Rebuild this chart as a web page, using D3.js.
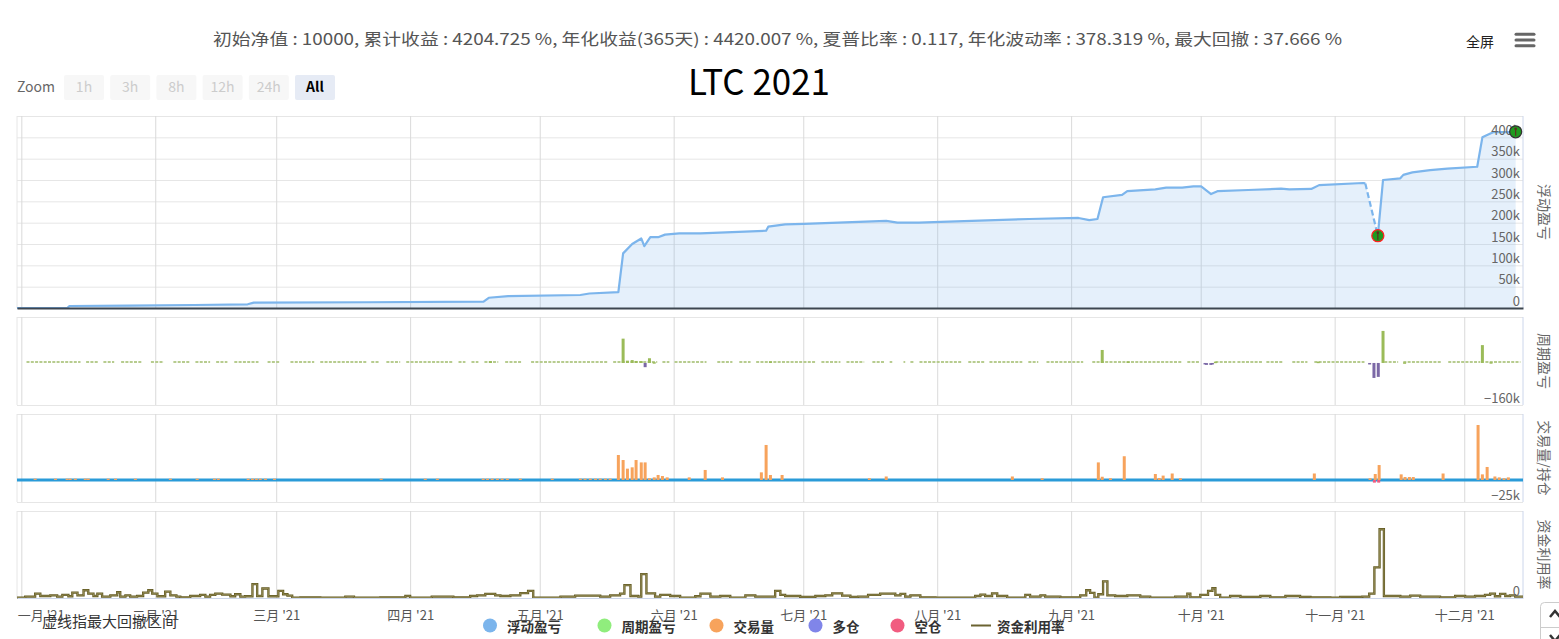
<!DOCTYPE html>
<html><head><meta charset="utf-8">
<script src="https://cdn.jsdelivr.net/npm/d3@7"></script>
<style>
html,body{margin:0;padding:0;background:#fff;overflow:hidden;}
svg{display:block;font-family:"Noto Sans CJK SC","Noto Sans",sans-serif;}
</style></head><body>
<svg id="c" width="1559" height="639"></svg>
<script>
// ---------------- DATA ----------------
const subtitleText = "初始净值 : 10000, 累计收益 : 4204.725 %, 年化收益(365天) : 4420.007 %, 夏普比率 : 0.117, 年化波动率 : 378.319 %, 最大回撤 : 37.666 %";
const titleText = "LTC 2021";
const zoomButtons = ["1h", "3h", "8h", "12h", "24h", "All"];
const selectedZoom = "All";
const monthNames = ["一月","二月","三月","四月","五月","六月","七月","八月","九月","十月","十一月","十二月"];
const yearSuffix = " '21";
const equityTicks = [0, 50000, 100000, 150000, 200000, 250000, 300000, 350000, 400000];
const axisTitles = ["浮动盈亏", "周期盈亏", "交易量/持仓", "资金利用率"];
const noteText = "虚线指最大回撤区间";

// days since 2021-01-01, value
const equity = [
  [-1,0],[10.6,0],[11.2,4700],[25,5500],[40,7000],[52.4,8700],[53.8,12500],[80,13500],[107,14800],
  [108.2,24000],[112.7,28000],[129.4,30500],[131.5,34000],[138.2,37000],[139.3,128000],[141.4,150000],
  [143.5,163000],[144.2,145000],[145.6,166000],[147.4,166000],[149,172000],[152.3,175000],[157.2,175000],
  [172.4,181000],[172.9,190600],[176.8,196000],[181.2,197000],[200.2,204000],[202.8,200000],[207.8,200000],
  [212.9,202000],[233.3,208600],[244.7,211000],[247.2,206000],[249.1,208600],[250.4,259500],[254.8,265000],
  [256,274000],[262.5,278000],[265,282000],[268.7,282000],[271.3,285000],[273.1,285000],[275.4,267000],
  [277,274000],[284,276600],[291.6,279700],[293.5,278000],[298.6,279000],[300.4,288000],[310.6,293000],
  [311.1,292000],[314,169500],[315.2,300000],[319.2,304000],[319.9,312000],[322,318000],[326.1,323000],
  [330.1,326500],[337,331000],[338.2,400000],[339.3,405500],[340.7,412000],[345.1,412000],[345.9,413000]
];
const drawdownPeakDay = 311.1;
const drawdownTroughDay = 314;

const periodPnl = [
  [108.6,7000],[139.3,92600],[140.3,8800],[141.4,11000],[142.3,7600],[143.5,7000],[144.4,-16000],
  [145.4,18000],[146.5,3000],[173.4,6000],[250.2,49500],[256.2,6000],[274,-2000],[275.7,-2000],
  [276.4,5000],[300.2,5000],[312.1,-2700],[313.1,-57000],[314.1,-53000],[315.2,122000],[320.2,2500],
  [338.2,68000],[340.2,3000]
];
// day ranges where the period P&L is tiny (drawn as the dotted strip)
const pnlQuietRanges = [
  [1.2,13.7],[15,17.8],[19,21.5],[23.1,28],[30,33],[35.2,38.9],[40.3,43.7],[45.1,47.7],[49.3,54.9],
  [57,59.7],[62.3,67.8],[69.2,79.9],[81,82.9],[84.5,87.7],[89.1,100],[101.2,102.8],[104.2,105.8],
  [107.2,110.4],[112,115.7],[118,135.9],[137,147.2],[148.4,150],[151.2,158.6],[161.1,164.6],[166.2,168.8],
  [170.1,184],[185.2,189.6],[191,195.1],[197,199.8],[201,201.6],[204.2,204.6],[205.8,206.5],[207.9,217.6],
  [219.2,222.9],[224.1,231.7],[233.1,235.4],[237.3,245.8],[247.9,268.8],[269.9,272.9],[276.4,281],
  [281.5,287.3],[288.2,291.9],[294.2,297.7],[299.3,310.9],[315.5,318.7],[319.9,328.7],[330.3,337.7],[338.9,347]
];
const pnlQuietNegRanges = [[274,275.7]];

const volume = [
  [3.2,1500],[7.9,1500],[10.6,1500],[11.3,1500],[12.5,1500],[14.8,1500],[15.5,1500],[20.1,1500],[21.8,1500],
  [26.4,1500],[34.5,1500],[40.7,1500],[44.7,1500],[45.6,1500],[52.5,1500],[53.5,1500],[54.4,1500],[55.3,1500],
  [56.5,1500],[58.6,1500],[83.3,1500],[93.5,1500],[96.3,1500],[106.9,1500],[107.9,1500],[109,1500],[110.2,1500],
  [111.3,1500],[112.5,1500],[115.5,1500],[122.9,1500],[129.4,1500],[130.5,1500],[131.7,1500],[132.9,1500],
  [134,1500],[135.2,1500],[136.3,1500],
  [138.2,28400],[139.3,22700],[140.3,12900],[141.4,14400],[142.3,22700],[143.5,20000],[144.4,20000],
  [145.4,2000],[146.5,3000],[147.4,5700],[148.4,4500],[149.5,3000],[154.6,3000],[158.3,11400],[162.3,3000],
  [171.3,8700],[172.4,39800],[173.4,5700],[176.1,5700],[196.3,2000],[200.2,4000],[229.4,4000],[236.3,2000],
  [249.3,20000],[250.2,3700],[252.1,2000],[255.3,27000],[262.5,6800],[263.4,2300],[264.3,5000],[266.4,7400],
  [268.3,2000],[299.3,7400],[312.2,2000],[313.4,6800],[314.3,17000],[319.4,6400],[320.3,3400],[321.3,3400],
  [322.2,3400],[329.1,7400],[337.2,62500],[338.2,6400],[339.3,14800],[341.1,4000],[342.1,3000],[343.2,2000],[344.2,3000]
];
const shortPos = [[313.2,-3000],[314.2,-3000]];
const holding = [[-1,0],[347.6,0]];

const utilization = [
  [-1,0.4],[0.9,1.5],[3.2,5],[4.4,2.3],[6.7,3.1],[8.3,1.6],[9.5,3.5],[10.9,2],[11.8,6.2],[13,3.1],[14.4,8.9],
  [15.5,5],[16.7,2.3],[17.6,5],[18.7,1.6],[20.6,3.1],[22.2,6.6],[22.9,1.6],[24.1,3.1],[25.2,1.6],[26.8,2.3],
  [28.2,6.2],[29.4,8.9],[30.3,5],[31.5,2],[33.3,7.4],[34.5,3.1],[35.9,1.6],[36.8,0.8],[39.1,2.3],[41.4,3.5],
  [42.6,1.6],[43.7,3.5],[44.9,5],[46.5,3.9],[48.4,2],[49.5,4.3],[50.7,1.6],[51.8,2],[53.5,15.9],[54.6,2.3],
  [55.8,10.9],[57.2,2],[59.5,8.1],[60.6,4.3],[61.6,2.7],[62.7,0.5],[64.6,0.8],[69.2,0.5],[75,1.6],[77,0.5],
  [83.1,0.8],[88.9,2.3],[90,0.5],[95,1.6],[100,0.8],[103.9,2.3],[105.5,3.1],[107.4,4.7],[109.7,3.1],[110.9,2.3],
  [113.2,3.1],[115.5,5.6],[117.3,8.1],[118.5,0.5],[124.8,1.6],[128.2,2.7],[134,1.6],[136.3,3.1],[138.6,5],
  [139.6,14.7],[141,2.3],[142.8,1.6],[143.5,27.5],[144.7,5.4],[146.7,1.6],[147.9,3.5],[150.2,2.3],[152.5,0.5],
  [156,2],[157.2,5],[159.5,1.6],[161.8,2.3],[164.1,0.5],[167.6,3.1],[169.9,1.6],[174.5,8.1],[175.7,3.5],
  [176.8,2.3],[180.3,1.2],[183.8,2.3],[186.1,3.1],[187.7,5.4],[190,2.7],[191.9,1.2],[193.7,1.6],[196,3.5],
  [198.8,5],[202.3,3.1],[203.5,4.7],[204.6,1.6],[205.8,3.1],[208.1,0.8],[211.6,0.3],[220.8,2.3],[222,3.9],
  [223.1,2.3],[224.7,5.4],[225.9,2.3],[228.2,0.3],[232.4,3.5],[233.5,1.6],[235.9,3.1],[237,1.6],[240.5,0.8],
  [245.1,3.1],[246.5,8.9],[247.4,5.8],[248.4,0.3],[249.3,4.3],[250.4,19],[251.4,3.1],[253.2,2.3],[256,3.1],
  [259,1.6],[261.3,0.3],[267.1,1.6],[269.9,5],[270.6,0.8],[272.9,3.5],[274.7,8.1],[275.7,11.2],[276.4,3.5],
  [277.5,0.3],[279.8,2.3],[282.2,1.2],[286.8,2.3],[289.1,0.8],[292.6,2.3],[296,1.2],[298.4,0.8],[303,0.3],
  [305.3,1.2],[310.4,1.6],[312,5],[313.2,35.3],[314.4,79],[315.4,2.3],[319.2,1.6],[321.5,2.7],[323.8,1.6],
  [328.4,0.8],[331.9,2.3],[334.2,1.6],[336.5,2.3],[338.8,3.5],[340,5],[341.1,2],[342.3,4.7],[343.5,2.3],
  [344.6,3.1],[345.8,1.6],[347.6,1.6]
];

const legendItems = [
  {name:"浮动盈亏", color:"#7cb5ec", type:"circle"},
  {name:"周期盈亏", color:"#90ed7d", type:"circle"},
  {name:"交易量", color:"#f7a35c", type:"circle"},
  {name:"多仓", color:"#8085e9", type:"circle"},
  {name:"空仓", color:"#f15c80", type:"circle"},
  {name:"资金利用率", color:"#6b6331", type:"line"}
];

// ---------------- DRAW ----------------
const dayToDate = d => new Date(Date.UTC(2021,0,1) + d*864e5);
const svg = d3.select("#c");
const X0 = 17, X1 = 1523;
const x = d3.scaleUtc().domain([dayToDate(-1), dayToDate(347.6)]).range([X0, X1]);
const P = {
  eq:{top:116,bottom:308}, pnl:{top:317,bottom:405}, vol:{top:414,bottom:502}, util:{top:511,bottom:598}
};
const yEq = d3.scaleLinear().domain([0,450000]).range([P.eq.bottom,P.eq.top]);
const yPnl = d3.scaleLinear().domain([-160000,175000]).range([P.pnl.bottom,P.pnl.top]);
const yVol = d3.scaleLinear().domain([-25000,75000]).range([P.vol.bottom,P.vol.top]);
const yUtil = d3.scaleLinear().domain([0,100]).range([P.util.bottom,P.util.top]);
const months = d3.utcMonth.range(dayToDate(0), dayToDate(347.6));
const FONT = '"Noto Sans CJK SC","Noto Sans",sans-serif';

function styleGrid(g, color){
  g.select(".domain").remove();
  g.selectAll(".tick line").attr("stroke", color).attr("stroke-width", 1);
}
const panelScales = [[P.eq,yEq],[P.pnl,yPnl],[P.vol,yVol],[P.util,yUtil]];
panelScales.forEach(([p,y],i)=>{
  const hv = i===0 ? d3.range(0,450001,50000) : y.domain();
  svg.append("g").attr("transform",`translate(${X1},0)`)
    .call(d3.axisRight(y).tickValues(hv).tickSize(-(X1-X0)).tickFormat(""))
    .call(g=>styleGrid(g,"#e6e6e6"));
  svg.append("g").attr("transform",`translate(0,${p.bottom})`)
    .call(d3.axisBottom(x).tickValues(months).tickSize(-(p.bottom-p.top)).tickFormat(""))
    .call(g=>styleGrid(g,"#dadada"));
  svg.append("line").attr("x1",X0).attr("x2",X0).attr("y1",p.top).attr("y2",p.bottom)
    .attr("stroke","#e6e6e6");
  svg.append("line").attr("x1",X1).attr("x2",X1).attr("y1",p.top).attr("y2",p.bottom)
    .attr("stroke","#ccd6eb");
});

function rightLabels(scale, values, fmt){
  svg.append("g").attr("transform",`translate(${X1},0)`)
    .call(d3.axisLeft(scale).tickValues(values).tickSize(0).tickPadding(3).tickFormat(fmt))
    .call(g=>{g.select(".domain").remove();
      g.selectAll("text").attr("dy","-3").attr("font-size",13).attr("fill","#666").attr("font-family",FONT);});
}

// ---- equity panel ----
const ex = d => x(dayToDate(d[0]));
const area = d3.area().x(ex).y0(yEq(0)).y1(d=>yEq(d[1]));
svg.append("path").datum(equity).attr("d",area).attr("fill","#7cb5ec").attr("fill-opacity",0.2);
const line = d3.line().x(ex).y(d=>yEq(d[1]));
const iPeak = equity.findIndex(d=>d[0]===drawdownPeakDay);
const iTrough = equity.findIndex(d=>d[0]===drawdownTroughDay);
const lineStyle = p => p.attr("fill","none").attr("stroke","#7cb5ec").attr("stroke-width",2.2)
  .attr("stroke-linejoin","round");
svg.append("path").datum(equity.slice(0,iPeak+1)).attr("d",line).call(lineStyle);
svg.append("path").datum(equity.slice(iPeak,iTrough+1)).attr("d",line).call(lineStyle)
  .attr("stroke-dasharray","6,3");
svg.append("path").datum(equity.slice(iTrough)).attr("d",line).call(lineStyle);
svg.append("g").attr("transform",`translate(0,${P.eq.bottom})`)
  .call(d3.axisBottom(x).tickValues([]).tickSizeOuter(0))
  .call(g=>g.select(".domain").attr("stroke","#3d4650").attr("stroke-width",2));
rightLabels(yEq, equityTicks, v=> v===0 ? "0" : (v/1000)+"k");
function marker(pt, stroke){
  const cx = ex(pt), cy = yEq(pt[1]);
  const g = svg.append("g");
  g.append("circle").attr("cx",cx).attr("cy",cy).attr("r",6).attr("fill","#1e9a1e")
    .attr("stroke",stroke).attr("stroke-width",1.3);
  g.append("line").attr("x1",cx).attr("x2",cx).attr("y1",cy-3).attr("y2",cy+4)
    .attr("stroke","#5a3020").attr("stroke-width",1.2);
  g.append("circle").attr("cx",cx).attr("cy",cy-3).attr("r",1.4).attr("fill","#5a3020");
}
marker(equity[iTrough], "#ff2020");
marker(equity[equity.length-1], "#333");

// ---- period pnl panel ----
svg.append("g").selectAll("line").data(pnlQuietRanges).join("line")
  .attr("x1",d=>x(dayToDate(d[0]))).attr("x2",d=>x(dayToDate(d[1])))
  .attr("y1",yPnl(0)-1).attr("y2",yPnl(0)-1)
  .attr("stroke","#b7cc8f").attr("stroke-width",2).attr("stroke-dasharray","3,1.3");
svg.append("g").selectAll("line").data(pnlQuietNegRanges).join("line")
  .attr("x1",d=>x(dayToDate(d[0]))).attr("x2",d=>x(dayToDate(d[1])))
  .attr("y1",yPnl(0)+1).attr("y2",yPnl(0)+1)
  .attr("stroke","#8a7ab0").attr("stroke-width",2).attr("stroke-dasharray","3,1.3");
svg.append("g").selectAll("rect").data(periodPnl).join("rect")
  .attr("x",d=>x(dayToDate(d[0]))-1.5).attr("width",3)
  .attr("y",d=>Math.min(yPnl(d[1]),yPnl(0)))
  .attr("height",d=>Math.max(1.5,Math.abs(yPnl(d[1])-yPnl(0))))
  .attr("fill",d=>d[1]>=0?"#9bbb59":"#7b68a6");
rightLabels(yPnl, [-160000], ()=>"−160k");

// ---- volume panel ----
const hline = d3.line().x(ex).y(d=>yVol(d[1]));
svg.append("path").datum(holding).attr("d",hline).attr("fill","none")
  .attr("stroke","#2a9bd8").attr("stroke-width",3);
svg.append("g").selectAll("rect").data(volume).join("rect")
  .attr("x",d=>x(dayToDate(d[0]))-1.5).attr("width",3)
  .attr("y",d=>yVol(d[1])).attr("height",d=>yVol(0)-yVol(d[1]))
  .attr("fill","#f7a35c");
svg.append("g").selectAll("rect").data(shortPos).join("rect")
  .attr("x",d=>x(dayToDate(d[0]))-1.5).attr("width",3)
  .attr("y",yVol(0)).attr("height",d=>yVol(d[1])-yVol(0))
  .attr("fill","#f15c80");
rightLabels(yVol, [-25000], ()=>"−25k");

// ---- utilization panel ----
const uline = d3.line().curve(d3.curveStepAfter).x(ex).y(d=>yUtil(d[1]));
svg.append("path").datum(utilization).attr("d",uline).attr("fill","none")
  .attr("stroke","#625a22").attr("stroke-width",2.3);
svg.append("path").datum(utilization).attr("d",uline).attr("fill","none")
  .attr("stroke","#a49b66").attr("stroke-width",0.7);
rightLabels(yUtil, [0], ()=>"0");
svg.append("g").attr("transform",`translate(0,${P.util.bottom})`)
  .call(d3.axisBottom(x).tickValues(months).tickSize(0).tickPadding(13).tickSizeOuter(0)
    .tickFormat(d=>monthNames[d.getUTCMonth()]+yearSuffix))
  .call(g=>{g.select(".domain").attr("stroke","#ccd6eb");
    g.selectAll("text").attr("font-size",13).attr("fill","#555").attr("font-family",FONT);
    g.selectAll("text").filter((d,i)=>i===0).attr("text-anchor","start").attr("dx",-4);});

// axis titles
const titleCenters = [P.eq,P.pnl,P.vol,P.util].map(p=>(p.top+p.bottom)/2);
axisTitles.forEach((t,i)=>{
  svg.append("text").attr("transform",`translate(1545,${titleCenters[i]}) rotate(90)`)
    .attr("text-anchor","middle").attr("dominant-baseline","central")
    .attr("font-size",14).attr("fill","#666").text(t);
});

// ---- header ----
svg.append("text").attr("x",213).attr("y",45).attr("font-size",16).attr("fill","#555")
  .attr("textLength",1129).attr("lengthAdjust","spacingAndGlyphs").text(subtitleText);
svg.append("text").attr("x",688).attr("y",95).attr("font-size",36).attr("fill","#000")
  .attr("textLength",142).attr("lengthAdjust","spacingAndGlyphs").text(titleText);
svg.append("text").attr("x",1466).attr("y",47).attr("font-size",14).attr("fill","#222").text("全屏");
[34.3,40,45.7].forEach(yy=>svg.append("line").attr("x1",1516).attr("x2",1534).attr("y1",yy).attr("y2",yy)
  .attr("stroke","#666").attr("stroke-width",3).attr("stroke-linecap","round"));

svg.append("text").attr("x",17).attr("y",92).attr("font-size",14).attr("fill","#666").text("Zoom");
zoomButtons.forEach((b,i)=>{
  const bx = 64 + i*46.2, sel = b===selectedZoom;
  svg.append("rect").attr("x",bx).attr("y",75).attr("width",40).attr("height",25).attr("rx",2)
    .attr("fill", sel ? "#e6ebf5" : "#f7f7f7");
  svg.append("text").attr("x",bx+20).attr("y",92).attr("text-anchor","middle").attr("font-size",14)
    .attr("font-weight", sel ? "bold" : "normal").attr("fill", sel ? "#000" : "#ccc").text(b);
});

svg.append("text").attr("x",42).attr("y",627).attr("font-size",14.5).attr("fill","#333")
  .attr("textLength",135).attr("lengthAdjust","spacingAndGlyphs").text(noteText);

const legendX = [490, 604.5, 716.5, 815.5, 897.5, 981];
legendItems.forEach((it,i)=>{
  const cx = legendX[i], cy = 625.5;
  if(it.type==="circle"){
    svg.append("circle").attr("cx",cx).attr("cy",cy).attr("r",7).attr("fill",it.color);
  } else {
    svg.append("line").attr("x1",cx-10).attr("x2",cx+10).attr("y1",cy).attr("y2",cy)
      .attr("stroke",it.color).attr("stroke-width",2);
  }
  svg.append("text").attr("x",cx+(it.type==="line"?16:17)).attr("y",cy).attr("dominant-baseline","central")
    .attr("font-size",13.5).attr("font-weight","bold").attr("fill","#333").text(it.name);
});

svg.append("rect").attr("x",1540.5).attr("y",602.5).attr("width",40).attr("height",60).attr("rx",4)
  .attr("fill","#fff").attr("stroke","#ccc");
svg.append("line").attr("x1",1541).attr("x2",1559).attr("y1",627.5).attr("y2",627.5).attr("stroke","#ccc");
svg.append("path").attr("d","M1550,617 L1555,611 L1560,617").attr("fill","none").attr("stroke","#333").attr("stroke-width",2.5);
svg.append("path").attr("d","M1550,635 L1555,641 L1560,635").attr("fill","none").attr("stroke","#333").attr("stroke-width",2.5);
</script></body></html>
